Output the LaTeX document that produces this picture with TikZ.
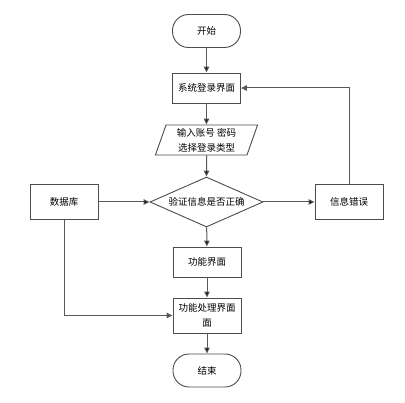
\documentclass[tikz,border=0pt]{standalone}
\usepackage{fontspec}
\newfontfamily\cjk{Noto Sans CJK SC}
\usetikzlibrary{shapes.geometric,arrows.meta}

\begin{document}
\begin{tikzpicture}[x=1pt, y=-1pt,
	font=\cjk\fontsize{9.5}{15}\selectfont,
	line/.style={draw=black!65, line width=1pt},
	>={Triangle[length=6pt,width=5.5pt]},
	box/.style={shape=rectangle, draw=black!70, line width=0.9pt, align=center, minimum width=68pt, minimum height=30pt, inner sep=1pt},
	term/.style={shape=rectangle, rounded corners=16pt, draw=black!70, line width=0.9pt, minimum width=68pt, minimum height=33pt},
	io/.style={shape=trapezium, trapezium left angle=72, trapezium right angle=108, trapezium stretches=true, draw=black!70, line width=0.9pt, align=center, minimum width=103pt, minimum height=30pt, inner sep=0pt},
	decide/.style={shape=diamond, aspect=2.26, draw=black!70, line width=0.9pt, minimum width=113pt, minimum height=50pt, inner sep=0pt}]

	\useasboundingbox (0,0) rectangle (405,403);

	\node (z1)[term] at (206.5,31) {开始};

	\node (z2)[box] at (206.5,88) {系统登录界面};

	\node (z3)[io] at (206.5,140) {输入账号 密码 \\ 选择登录类型};

	\node (z4)[decide] at (206.5,202) {验证信息是否正确};

	\node (z5)[box, minimum height=35pt] at (64,202) {数据库};

	\node (z6)[box, minimum height=35pt] at (349,202) {信息错误};

	\node (z7)[box] at (207,262) {功能界面};

	\node (z8)[box, minimum height=35pt] at (207,315.5) {功能处理界面 \\ 面};

	\node (z9)[term] at (207,370.5) {结束};

	\path[->, line] (z1) edge (z2);
	\path[->, line] (z2) edge (z3);
	\path[->, line] (z3) edge (z4);
	\path[->, line] (z5) edge (z4);
	\path[->, line] (z4) edge (z6);
	\draw[->, line] (z6.north) |- (z2.east);
	\path[->, line] (z4) edge (z7);
	\path[->, line] (z7) edge (z8);
	\draw[->, line] (z5.south) |- (z8.west);
	\path[->, line] (z8) edge (z9);
\end{tikzpicture}
\end{document}
